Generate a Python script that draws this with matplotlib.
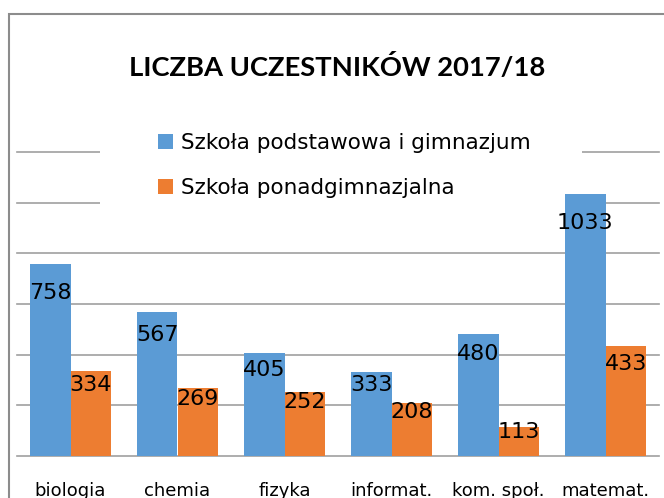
import matplotlib
matplotlib.use("Agg")
import matplotlib.pyplot as plt
import numpy as np
from matplotlib.patches import Rectangle

categories = ["biologia", "chemia", "fizyka", "informat.", "kom. społ.", "matemat."]
podstawowa = [758, 567, 405, 333, 480, 1033]
ponadgim = [334, 269, 252, 208, 113, 433]
series_names = ["Szkoła podstawowa i gimnazjum", "Szkoła ponadgimnazjalna"]
title = "LICZBA UCZESTNIKÓW 2017/18"
yticks = [0, 200, 400, 600, 800, 1000, 1200]

BLUE = "#5B9BD5"
ORANGE = "#ED7D31"
GRID = "#A0A0A0"

W, H = 664, 498
fig = plt.figure(figsize=(W / 100, H / 100), dpi=100)
fig.patch.set_facecolor("white")

def fx(px):
    return px / W

def fy(py):
    return 1 - py / H

ax_l, ax_r, ax_b, ax_t = 17, 659, 456, 152
ax = fig.add_axes([fx(ax_l), fy(ax_b), fx(ax_r - ax_l), (ax_b - ax_t) / H])

x = np.arange(len(categories))
bw = 0.378
b1 = ax.bar(x - bw / 2, podstawowa, bw, color=BLUE, zorder=3, label=series_names[0])
b2 = ax.bar(x + bw / 2, ponadgim, bw, color=ORANGE, zorder=3, label=series_names[1])

ax.set_xlim(-0.5, len(categories) - 0.5)
ax.set_ylim(0, 1200)
ax.set_yticks(yticks)
for yv in yticks:
    ax.axhline(yv, color=GRID, lw=1.2, zorder=1, clip_on=False)

for s in ax.spines.values():
    s.set_visible(False)
ax.tick_params(axis="y", left=False, labelleft=False)
ax.tick_params(axis="x", length=0, pad=18.5)
ax.set_xticks(x)
ax.set_xticklabels(categories, fontsize=13, family="DejaVu Sans", color="#000000")

def label_bars(bars, vals):
    for rect, v in zip(bars, vals):
        off = min(115, v * 0.16)
        ax.text(rect.get_x() + rect.get_width() / 2, v - off, str(v),
                ha="center", va="center", fontsize=16, family="DejaVu Sans",
                color="#000000", zorder=4)

label_bars(b1, podstawowa)
label_bars(b2, ponadgim)

# white legend background covering gridlines
bg = Rectangle(((100 - ax_l) / (ax_r - ax_l), (ax_b - 215) / (ax_b - ax_t)),
               (582 - 100) / (ax_r - ax_l), 100 / (ax_b - ax_t),
               transform=ax.transAxes, facecolor="white", edgecolor="none",
               zorder=2, clip_on=False)
ax.add_patch(bg)

leg = ax.legend(loc="upper left", bbox_to_anchor=(fx(149.5), fy(124.5)),
                bbox_transform=fig.transFigure, frameon=False,
                prop={"family": "DejaVu Sans", "size": 15.5},
                handlelength=0.7, handleheight=0.7, handletextpad=0.35,
                labelspacing=1.15, borderaxespad=0, borderpad=0.4)
leg.set_zorder(2.5)

fig.text(fx(337), fy(67), title, ha="center", va="center",
         fontsize=19.7, fontweight="bold", family="Lato", color="#000000")

# outer chart frame (partially cropped)
frame = Rectangle((fx(8.5), fy(H + 20)), fx(W + 40), (H + 20 - 13.5) / H,
                  transform=fig.transFigure, facecolor="none",
                  edgecolor="#8C8C8C", lw=1.5, clip_on=False)
fig.patches.append(frame)

fig.savefig("out.png", dpi=100)
